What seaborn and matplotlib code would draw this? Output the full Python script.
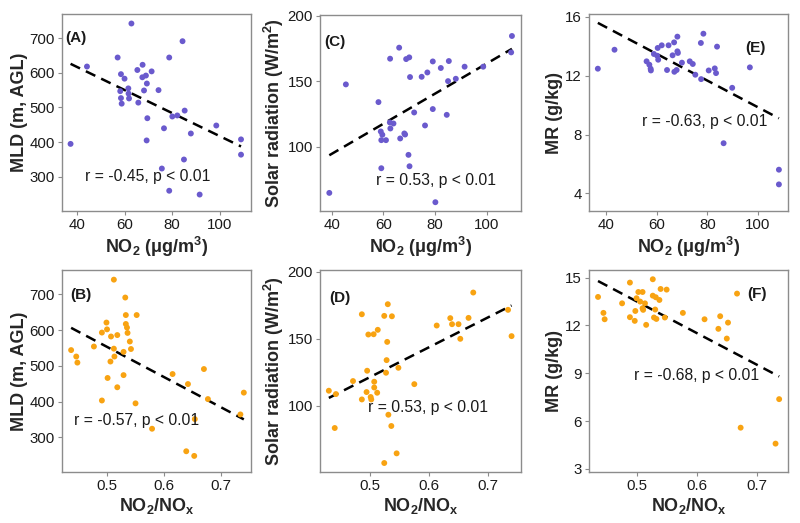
import matplotlib
matplotlib.use("Agg")
import matplotlib.pyplot as plt
import seaborn as sns
import numpy as np
import pandas as pd

# ---------------- data ----------------
no2_A = [37.3, 44.2, 57.1, 62.9, 58.5, 60.0, 58.2, 58.5, 58.8, 61.6, 61.7, 61.9, 65.4, 65.8, 67.6, 67.5,
         69.0, 69.4, 68.2, 71.4, 69.6, 69.3, 74.3, 76.6, 75.7, 78.8, 78.8, 80.1, 82.2, 84.4, 85.3, 85.0,
         87.9, 91.6, 98.6, 109.0, 109.0]
mld_A = [395, 618, 644, 742, 596, 583, 547, 527, 511, 555, 540, 526, 608, 514, 623, 587,
         592, 569, 549, 604, 469, 405, 550, 440, 324, 644, 260, 474, 477, 691, 491, 350,
         425, 249, 448, 408, 364]

no2_C = [39.1, 45.5, 58.1, 66.1, 62.6, 68.8, 70.0, 70.3, 59.0, 59.6, 59.2, 61.0, 62.5, 63.9, 62.7, 66.5,
         68.1, 68.4, 69.7, 70.1, 59.2, 71.9, 74.8, 77.0, 76.1, 79.1, 79.1, 80.1, 82.2, 85.3, 85.0, 84.5,
         88.0, 91.4, 98.6, 109.7, 109.4]
sr_C = [64.9, 147.6, 134.1, 175.6, 167.2, 166.9, 168.2, 153.2, 111.7, 109.2, 105.1, 105.1, 118.6, 117.8,
        114.0, 106.4, 110.2, 109.4, 93.9, 85.2, 83.7, 126.2, 153.4, 156.7, 116.3, 165.1, 128.8, 57.8,
        160.1, 165.4, 150.1, 124.4, 151.9, 161.1, 161.1, 184.5, 172.0]

no2_E = [36.6, 43.2, 55.9, 57.0, 57.5, 57.6, 58.8, 60.3, 60.5, 61.9, 60.1, 64.0, 64.6, 66.2, 66.8, 66.9,
         67.8, 68.1, 68.3, 68.1, 69.9, 73.0, 74.2, 75.2, 77.4, 77.5, 78.4, 80.5, 82.9, 83.4, 83.8, 86.4,
         89.8, 96.8, 108.3, 108.3]
mr_E = [12.48, 13.77, 12.98, 12.75, 12.48, 12.36, 13.48, 13.89, 13.09, 14.07, 13.36, 12.39, 14.07, 13.39,
        14.27, 12.27, 12.39, 13.66, 13.55, 14.66, 12.89, 12.98, 12.80, 12.07, 14.23, 11.77, 14.86, 12.36,
        12.50, 12.18, 13.98, 7.41, 11.18, 12.57, 5.61, 4.61]

ratio_B = [0.437, 0.446, 0.448, 0.477, 0.491, 0.491, 0.499, 0.500, 0.501, 0.507, 0.506, 0.512, 0.512,
           0.513, 0.518, 0.518, 0.529, 0.529, 0.532, 0.533, 0.533, 0.535, 0.536, 0.540, 0.542, 0.550,
           0.552, 0.579, 0.615, 0.639, 0.642, 0.653, 0.654, 0.670, 0.677, 0.734, 0.740]
mld_B = [544, 526, 509, 554, 593, 403, 621, 602, 466, 582, 512, 741, 548, 526, 586, 440, 539, 474, 691,
         642, 617, 607, 592, 568, 547, 395, 642, 324, 477, 261, 449, 248, 351, 491, 407, 364, 425]

ratio_D = [0.430, 0.442, 0.440, 0.471, 0.486, 0.486, 0.494, 0.495, 0.497, 0.501, 0.502, 0.506, 0.507,
           0.507, 0.512, 0.513, 0.524, 0.524, 0.527, 0.528, 0.529, 0.530, 0.531, 0.536, 0.537, 0.545,
           0.548, 0.575, 0.613, 0.636, 0.639, 0.650, 0.653, 0.667, 0.675, 0.734, 0.740]
sr_D = [111.2, 108.7, 83.4, 118.4, 168.2, 104.7, 110.2, 126.1, 153.1, 106.5, 104.7, 153.3, 117.9, 113.6,
        109.7, 156.6, 167.0, 57.3, 124.6, 134.0, 147.6, 175.7, 93.3, 84.9, 166.7, 64.5, 128.3, 116.1,
        159.8, 165.3, 160.8, 160.8, 149.9, 165.5, 184.4, 171.5, 151.9]

ratio_F = [0.436, 0.445, 0.447, 0.476, 0.489, 0.489, 0.497, 0.498, 0.500, 0.503, 0.506, 0.510, 0.510,
           0.511, 0.514, 0.516, 0.527, 0.527, 0.529, 0.531, 0.532, 0.533, 0.538, 0.540, 0.547, 0.550,
           0.577, 0.613, 0.636, 0.639, 0.650, 0.652, 0.667, 0.673, 0.731, 0.737]
mr_F = [13.79, 12.79, 12.39, 13.39, 14.69, 12.52, 12.29, 12.91, 13.71, 14.10, 13.50, 14.10, 13.08, 12.98,
        13.39, 12.04, 14.90, 13.87, 12.50, 13.00, 13.77, 12.41, 13.60, 14.29, 12.50, 14.25, 12.79, 12.39,
        11.79, 12.58, 11.18, 12.18, 14.00, 5.59, 4.59, 7.38]

panel_tags = ["(A)", "(B)", "(C)", "(D)", "(E)", "(F)"]
r_texts = ["r = -0.45, p < 0.01", "r = -0.57, p < 0.01", "r = 0.53, p < 0.01",
           "r = 0.53, p < 0.01", "r = -0.63, p < 0.01", "r = -0.68, p < 0.01"]
ticks_no2 = [40, 60, 80, 100]
ticks_ratio = [0.5, 0.6, 0.7]
ticks_mld = [300, 400, 500, 600, 700]
ticks_sr = [100, 150, 200]
ticks_mr_top = [4, 8, 12, 16]
ticks_mr_bot = [3, 6, 9, 12, 15]

# ---------------- style ----------------
sns.set_theme(style="white")
plt.rcParams["font.family"] = ["Liberation Sans", "DejaVu Sans"]
plt.rcParams["mathtext.default"] = "regular"

PURPLE = "#6A5ACD"
ORANGE = "#F8A312"
FRAME = "#8C8C8C"

W, H = 800, 523
fig = plt.figure(figsize=(8.0, 5.23), dpi=100)


def make_ax(l, r, t, b):
    return fig.add_axes([l / W, 1 - b / H, (r - l) / W, (b - t) / H])


xlab_no2 = "NO$_2$ (μg/m$^3$)"
xlab_ratio = "NO$_2$/NO$_x$"

panels = [
    (no2_A, mld_A, PURPLE, (62, 251, 14, 211), (33.7, 113.2), (201.6, 769.4), ticks_no2, ticks_mld,
     xlab_no2, "MLD (m, AGL)", "(A)", (0.016, 0.878), r_texts[0], (0.455, 0.173)),
    (ratio_B, mld_B, ORANGE, (62, 251, 270, 472), (0.421, 0.7526), (203, 768), ticks_ratio, ticks_mld,
     xlab_ratio, "MLD (m, AGL)", "(B)", (0.042, 0.876), r_texts[1], (0.397, 0.257)),
    (no2_C, sr_C, PURPLE, (320, 521, 15, 211), (35.5, 113.2), (51.1, 200.5), ticks_no2, ticks_sr,
     xlab_no2, "Solar radiation (W/m$^2$)", "(C)", (0.02, 0.862), r_texts[2], (0.577, 0.158)),
    (ratio_D, sr_D, ORANGE, (320, 521, 270, 472), (0.415, 0.756), (50.6, 201.2), ticks_ratio, ticks_sr,
     xlab_ratio, "Solar radiation (W/m$^2$)", "(D)", (0.045, 0.861), r_texts[3], (0.537, 0.317)),
    (no2_E, mr_E, PURPLE, (589, 788, 14, 211), (33.1, 111.9), (2.8, 16.2), ticks_no2, ticks_mr_top,
     xlab_no2, "MR (g/kg)", "(E)", (0.784, 0.827), r_texts[4], (0.583, 0.452)),
    (ratio_F, mr_F, ORANGE, (589, 788, 270, 472), (0.421, 0.7517), (2.81, 15.48), ticks_ratio, ticks_mr_bot,
     xlab_ratio, "MR (g/kg)", "(F)", (0.794, 0.881), r_texts[5], (0.543, 0.48)),
]

for (xs, ys, col, box, xl, yl, xt, yt, xlab, ylab, tag, tagpos, rtxt, rpos) in panels:
    ax = make_ax(*box)
    df = pd.DataFrame({"x": xs, "y": ys})
    sns.regplot(data=df, x="x", y="y", ax=ax, scatter=False, ci=None, truncate=True,
                line_kws=dict(color="black", lw=1.8, dashes=(4.2, 2.6)))
    sns.scatterplot(data=df, x="x", y="y", ax=ax, color=col, s=18, edgecolor="none", zorder=3)
    ax.set_xlim(*xl)
    ax.set_ylim(*yl)
    ax.set_xticks(xt)
    ax.set_yticks(yt)
    if xt is ticks_ratio:
        ax.set_xticklabels([f"{v:.1f}" for v in xt])
    ax.set_xlabel(xlab, fontsize=13, fontweight="bold", labelpad=2)
    ax.set_ylabel(ylab, fontsize=13, fontweight="bold", labelpad=1.5)
    ax.tick_params(axis="both", which="major", labelsize=10.8, length=3, width=0.8,
                   color=FRAME, labelcolor="#1a1a1a", pad=2, bottom=True, left=True)
    for sp in ax.spines.values():
        sp.set_visible(True)
        sp.set_color(FRAME)
        sp.set_linewidth(1.0)
    ax.text(tagpos[0], tagpos[1], tag, transform=ax.transAxes, ha="left", va="center",
            fontsize=11, fontweight="bold", color="#1a1a1a")
    ax.text(rpos[0], rpos[1], rtxt, transform=ax.transAxes, ha="center", va="center",
            fontsize=11.3, color="#1a1a1a")

fig.savefig("out.png", dpi=100)
